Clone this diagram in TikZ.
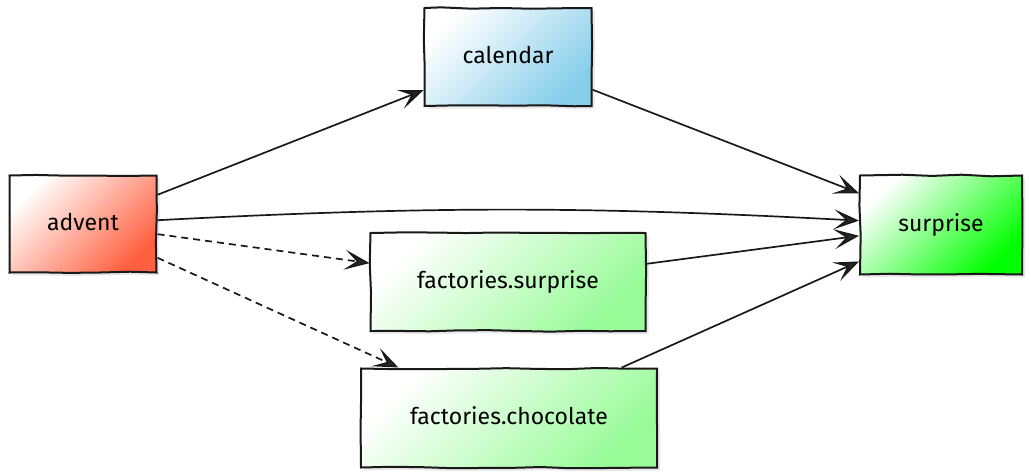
\documentclass[tikz,border=0pt]{standalone}
\usepackage{fontspec}
\setmainfont{Fira Sans}
\usetikzlibrary{arrows.meta,shadows,decorations.pathmorphing}
\definecolor{adventc}{RGB}{255,96,64}
\definecolor{calc}{RGB}{135,206,235}
\definecolor{surpc}{RGB}{0,255,0}
\definecolor{factc}{RGB}{152,251,152}
\definecolor{tipc}{RGB}{40,40,40}
\tikzset{
  box/.style={draw=black!90, line width=2pt, inner sep=0pt,
    font=\fontsize{23}{27}\selectfont,
    drop shadow={opacity=0.18, shadow xshift=3pt, shadow yshift=-3pt},
    decorate, decoration={random steps, segment length=30pt, amplitude=0.8pt},
    top color=white, bottom color=#1, shading angle=45},
  link/.style={line width=1.7pt, draw=black!90,
    -{Stealth[length=25pt,width=20pt,inset=12pt,fill=tipc]}},
  dlink/.style={link, dash pattern=on 7pt off 5pt}
}
\newcommand{\lift}[1]{\raisebox{5pt}{#1}}
\begin{document}
\pgfmathsetseed{7}
\begin{tikzpicture}[x=1pt,y=-1pt]
\useasboundingbox (0,0) rectangle (1031,475);
\node[box=adventc, minimum width=147pt, minimum height=97pt] (advent) at (83,224) {\lift{advent}};
\node[box=calc, minimum width=167pt, minimum height=98pt] (calendar) at (508,57) {\lift{calendar}};
\node[box=surpc, minimum width=162pt, minimum height=99pt] (surprise) at (941,225) {\lift{surprise}};
\node[box=factc, minimum width=275pt, minimum height=98pt] (fsurprise) at (508,282) {\lift{factories.surprise}};
\node[box=factc, minimum width=296pt, minimum height=99pt] (fchoc) at (509,418) {\lift{factories.chocolate}};
\draw[link] (advent) -- (calendar);
\draw[link] (calendar) -- (surprise);
\draw[link] (advent) to[bend left=3] (surprise);
\draw[dlink] (advent) -- (fsurprise);
\draw[dlink] (advent) -- (fchoc);
\draw[link] (fsurprise) -- (surprise);
\draw[link] (fchoc) -- (surprise);
\end{tikzpicture}
\end{document}
